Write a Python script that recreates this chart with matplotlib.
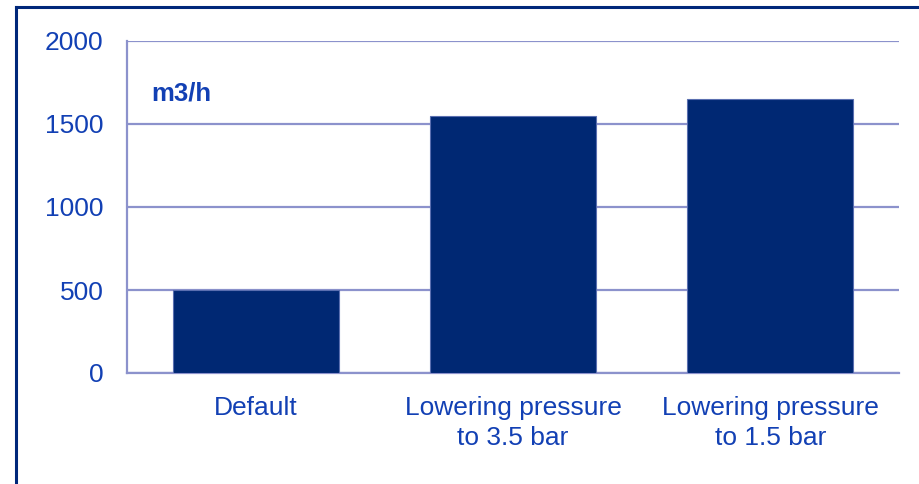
import matplotlib.pyplot as plt
from matplotlib.lines import Line2D

# Datos del gráfico
categorias = ["Default", "Lowering pressure\nto 3.5 bar", "Lowering pressure\nto 1.5 bar"]
caudal = [500, 1550, 1650]
yticks = [0, 500, 1000, 1500, 2000]

plt.rcParams['font.family'] = ['Liberation Sans', 'DejaVu Sans']

cor_barra = '#002873'
cor_texto = '#1240b4'
cor_grade = '#8c92cc'
cor_moldura = '#00277a'

fig = plt.figure(figsize=(9.2, 4.84), dpi=100)
ax = fig.add_axes([127 / 920, 111 / 484, 772 / 920, 332 / 484])

x = range(len(categorias))
ax.bar(x, caudal, width=0.645, color=cor_barra, edgecolor='#5a6fb0',
       linewidth=0.8, zorder=3)

ax.set_xlim(-0.5, len(categorias) - 0.5)
ax.set_ylim(0, 2000)
ax.set_yticks(yticks)
ax.set_xticks(list(x))
ax.set_xticklabels(categorias, linespacing=1.32)

ax.grid(axis='y', color=cor_grade, linewidth=1.6, zorder=1)
ax.tick_params(axis='both', length=0, labelsize=19, labelcolor=cor_texto)
ax.tick_params(axis='y', pad=17)
ax.tick_params(axis='x', pad=16.5)

for lado in ['top', 'right']:
    ax.spines[lado].set_visible(False)
for lado in ['left', 'bottom']:
    ax.spines[lado].set_color(cor_grade)
    ax.spines[lado].set_linewidth(1.6)

# Unidade
ax.text(0.032, 0.843, 'm3/h', transform=ax.transAxes, fontsize=18.5,
        fontweight='bold', color=cor_texto, va='center', ha='left')

# Moldura (esquerda e topo)
fig.add_artist(Line2D([16 / 920, 16 / 920], [0, 1 - 7 / 484],
                      transform=fig.transFigure, color=cor_moldura, linewidth=2.2))
fig.add_artist(Line2D([16 / 920, 1], [1 - 7 / 484, 1 - 7 / 484],
                      transform=fig.transFigure, color=cor_moldura, linewidth=2.2))

fig.savefig('out.png', dpi=100)
